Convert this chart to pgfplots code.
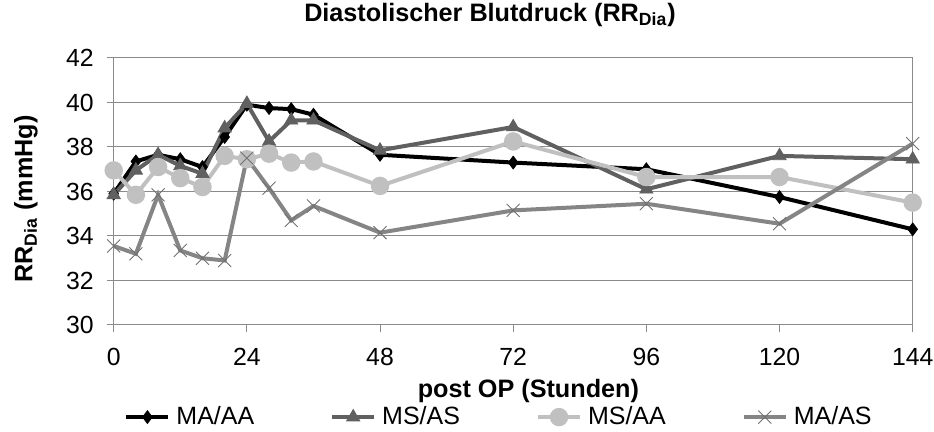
\documentclass[border=0pt]{standalone}
\usepackage{fontspec}
\setmainfont{Liberation Sans}
\usepackage{pgfplots}
\pgfplotsset{compat=1.18}

\definecolor{cMAAA}{HTML}{000000}
\definecolor{cMSAS}{HTML}{606060}
\definecolor{cMSAA}{HTML}{C0C0C0}
\definecolor{cMAAS}{HTML}{858585}
\definecolor{gridgray}{HTML}{8A8A8A}

\newcommand{\fs}[1]{\fontsize{#1}{#1}\selectfont}

\begin{document}
\begin{tikzpicture}
\begin{axis}[
    scale only axis, width=399.5pt, height=133.5pt,
    xmin=0, xmax=144, ymin=30, ymax=42,
    xtick={0,24,...,144}, ytick={30,32,...,42},
    ymajorgrids, grid style={gridgray, line width=0.5pt},
    axis line style={gridgray, line width=0.5pt},
    tick style={gridgray, line width=0.5pt},
    tick align=outside, major tick length=3.5pt,
    xtick pos=left, ytick pos=left,
    clip=false,
    /pgf/number format/assume math mode=true,
    ticklabel style={font=\fs{12.4}},
    xticklabel style={anchor=base, yshift=-17pt},
    yticklabel style={anchor=east, xshift=-3pt},
    title={\bfseries Diastolischer Blutdruck (RR\textsubscript{Dia})},
    title style={at={(axis description cs:0.471,1.0936)}, anchor=base, font=\fs{12.6}},
    xlabel={\bfseries post OP (Stunden)},
    xlabel style={at={(axis description cs:0.519,-0.27)}, anchor=base, font=\fs{12.6}},
    ylabel={\bfseries RR\textsubscript{Dia} (mmHg)},
    ylabel style={at={(axis description cs:-0.11,0.472)}, anchor=center, rotate=0, font=\fs{12.6}},
    legend columns=4,
    legend style={at={(axis description cs:0.4835,-0.345)}, anchor=center, draw=none, fill=none,
        font=\fs{12.5}, inner sep=0pt,
        /tikz/every even column/.append style={column sep=36pt},
        /tikz/every odd column/.append style={column sep=1pt}},
    legend image code/.code={
        \draw[mark repeat=2, mark phase=2, #1] plot coordinates {(0pt,0pt) (10.5pt,0pt) (21pt,0pt)};
    },
]
\addplot[cMAAA, line width=2pt, mark=diamond*, mark size=3.2pt, mark options={solid, fill=cMAAA, line width=0.4pt}] coordinates {
(0,35.9) (4,37.35) (8,37.65) (12,37.45) (16,37.1) (20,38.45) (24,39.9) (28,39.75)
(32,39.7) (36,39.45) (48,37.65) (72,37.3) (96,37.0) (120,35.75) (144,34.3)
};
\addlegendentry{MA/AA}
\addplot[cMSAS, line width=2pt, mark=triangle*, mark size=3.8pt, mark options={solid, fill=cMSAS, line width=0.4pt}] coordinates {
(0,35.85) (4,36.95) (8,37.65) (12,37.15) (16,36.8) (20,38.85) (24,39.95) (28,38.25)
(32,39.2) (36,39.2) (48,37.85) (72,38.9) (96,36.1) (120,37.6) (144,37.45)
};
\addlegendentry{MS/AS}
\addplot[cMSAA, line width=2pt, mark=*, mark size=3.6pt, mark options={solid, fill=cMSAA, draw=cMSAA}] coordinates {
(0,36.95) (4,35.85) (8,37.1) (12,36.6) (16,36.2) (20,37.6) (24,37.45) (28,37.7)
(32,37.3) (36,37.35) (48,36.25) (72,38.25) (96,36.65) (120,36.65) (144,35.5)
};
\addlegendentry{MS/AA}
\addplot[cMAAS, line width=2pt, mark=x, mark size=4.6pt, mark options={solid, draw=cMAAS!85!black, line width=0.45pt}] coordinates {
(0,33.55) (4,33.2) (8,35.85) (12,33.35) (16,33.0) (20,32.9) (24,37.5) (28,36.15)
(32,34.7) (36,35.35) (48,34.15) (72,35.15) (96,35.45) (120,34.55) (144,38.15)
};
\addlegendentry{MA/AS}
\end{axis}
\pgfresetboundingbox
\path[use as bounding box] ([shift={(-56.85pt,-53.5pt)}]current axis.south west)
    rectangle ([shift={(10.65pt,29pt)}]current axis.north east);
\end{tikzpicture}
\end{document}
